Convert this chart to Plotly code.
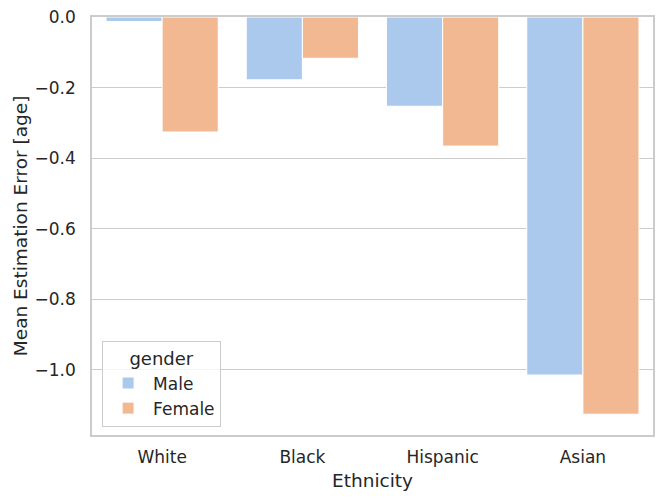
import plotly.graph_objects as go

categories = ["White", "Black", "Hispanic", "Asian"]
male_values = [-0.013, -0.178, -0.253, -1.015]
female_values = [-0.326, -0.117, -0.366, -1.126]
y_ticks = [0.0, -0.2, -0.4, -0.6, -0.8, -1.0]

male_color = "#abc9ec"
female_color = "#f1b892"
text_color = "#262626"
grid_color = "#cccccc"
font_family = "DejaVu Sans"

fig = go.Figure()
fig.add_trace(go.Bar(x=categories, y=male_values, name="Male",
                     marker=dict(color=male_color, line=dict(color="white", width=1))))
fig.add_trace(go.Bar(x=categories, y=female_values, name="Female",
                     marker=dict(color=female_color, line=dict(color="white", width=1))))

# page body adds an 8px offset, so the figure is 8px smaller with 8px less left/top margin
fig.update_layout(
    width=657, height=495,
    margin=dict(l=84, r=12, t=9, b=68, autoexpand=False),
    paper_bgcolor="white", plot_bgcolor="white",
    barmode="group", bargap=0.2, bargroupgap=0,
    font=dict(family=font_family, size=17, color=text_color),
    showlegend=True,
    legend=dict(
        title=dict(text="gender", side="top center", font=dict(size=18, color=text_color)),
        x=0.018, y=0.019, xanchor="left", yanchor="bottom",
        bgcolor="rgba(255,255,255,0.8)", bordercolor=grid_color, borderwidth=1,
        font=dict(size=17, color=text_color),
        itemwidth=40, tracegroupgap=0,
    ),
    annotations=[
        dict(text="Ethnicity", xref="paper", yref="paper", x=0.5, y=-0.110,
             xanchor="center", yanchor="middle", showarrow=False, font=dict(size=18.5)),
        dict(text="Mean Estimation Error [age]", xref="paper", yref="paper",
             x=-0.128, y=0.5, xanchor="center", yanchor="middle", textangle=-90,
             showarrow=False, font=dict(size=18.5)),
    ],
)

fig.update_xaxes(
    automargin=False,
    showgrid=False, showline=True, linecolor=grid_color, linewidth=1.7, mirror=True,
    ticks="", tickfont=dict(size=17), range=[-0.5, 3.5], ticklabelstandoff=6,
)
fig.update_yaxes(
    automargin=False, ticklabeloverflow="allow",
    range=[-1.185, 0], tickvals=y_ticks, tickformat=".1f",
    showgrid=True, gridcolor=grid_color, gridwidth=1.4, zeroline=False,
    showline=True, linecolor=grid_color, linewidth=1.7, mirror=True,
    ticks="", tickfont=dict(size=17), ticklabelstandoff=11,
)

fig.write_html("out.html")
